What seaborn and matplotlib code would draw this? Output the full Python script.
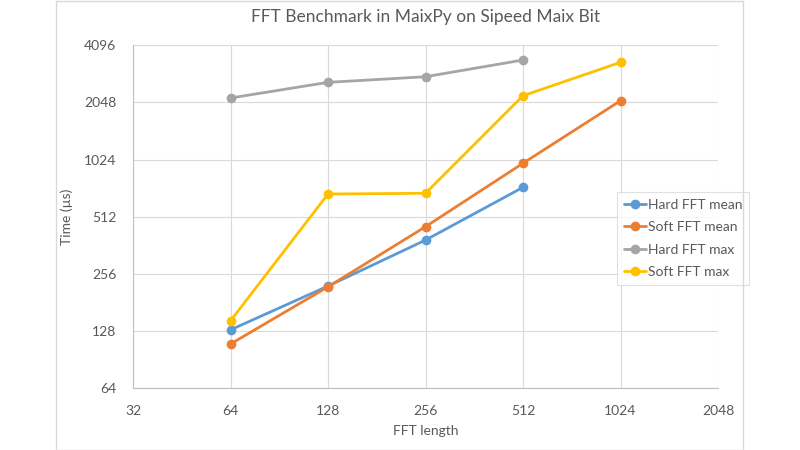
import matplotlib
matplotlib.use("Agg")
import matplotlib.pyplot as plt
import matplotlib.ticker as mticker
from matplotlib.patches import Rectangle
import seaborn as sns
import pandas as pd

sns.set_theme(style="white")
plt.rcParams['font.family'] = ['Lato', 'DejaVu Sans']

fft_length = [64, 128, 256, 512, 1024]
hard_mean = [130, 221, 386, 732, None]
soft_mean = [109.5, 219, 454, 980, 2092]
hard_max = [2162, 2614, 2798, 3427, None]
soft_max = [145, 675, 681, 2222, 3332]

series_names = ["Hard FFT mean", "Soft FFT mean", "Hard FFT max", "Soft FFT max"]
series_values = [hard_mean, soft_mean, hard_max, soft_max]
colors = ["#5B9BD5", "#ED7D31", "#A5A5A5", "#FFC000"]

x_ticks = [32, 64, 128, 256, 512, 1024, 2048]
y_ticks = [64, 128, 256, 512, 1024, 2048, 4096]

rows = []
for name, vals in zip(series_names, series_values):
    for x, v in zip(fft_length, vals):
        if v is not None:
            rows.append({"FFT length": x, "Time": v, "Series": name})
df = pd.DataFrame(rows)

fig = plt.figure(figsize=(8, 4.5), dpi=100)
ax = fig.add_axes([133/800, 1-388.3/450, (718-133)/800, (388.3-45.3)/450])

text_color = "#595959"
grid_color = "#D9D9D9"

sns.lineplot(data=df, x="FFT length", y="Time", hue="Series", hue_order=series_names,
             palette=colors, marker="o", markersize=7, markeredgewidth=0,
             linewidth=2.0, ax=ax, legend=True)

ax.set_xscale("log", base=2)
ax.set_yscale("log", base=2)
ax.set_xlim(32, 2048)
ax.set_ylim(64, 4096)
ax.set_xticks(x_ticks)
ax.set_yticks(y_ticks)
ax.xaxis.set_major_formatter(mticker.FuncFormatter(lambda v, p: f"{int(round(v))}"))
ax.yaxis.set_major_formatter(mticker.FuncFormatter(lambda v, p: f"{int(round(v))}"))
ax.xaxis.set_minor_locator(mticker.NullLocator())
ax.yaxis.set_minor_locator(mticker.NullLocator())

ax.grid(True, color=grid_color, linewidth=0.8)
ax.set_axisbelow(True)
for side in ["top", "right"]:
    ax.spines[side].set_visible(False)
for side in ["left", "bottom"]:
    ax.spines[side].set_color("#BFBFBF")
    ax.spines[side].set_linewidth(0.8)

ax.tick_params(axis="both", length=0, colors=text_color, labelsize=10)
ax.tick_params(axis="x", pad=12)
ax.tick_params(axis="y", pad=12)

ax.set_xlabel("FFT length", color=text_color, fontsize=10, labelpad=6)
ax.set_ylabel("Time (µs)", color=text_color, fontsize=10, labelpad=8)
ax.set_title("FFT Benchmark in MaixPy on Sipeed Maix Bit", color=text_color,
             fontsize=12.5, pad=17)

leg = ax.legend(loc="upper left", bbox_to_anchor=((617-133)/585, (388.3-192)/343),
                frameon=True, fontsize=10, handlelength=1.6, handletextpad=0.1,
                borderpad=0.5, labelspacing=0.75, fancybox=False, borderaxespad=0)
leg.get_frame().set_edgecolor(grid_color)
leg.get_frame().set_linewidth(0.8)
for t in leg.get_texts():
    t.set_color(text_color)

fig.patches.append(Rectangle((56.5/800, 0.5/450), (743-56.5)/800, (449-0.5)/450,
                             transform=fig.transFigure, fill=False,
                             edgecolor="#D9D9D9", linewidth=1.0))

fig.savefig("out.png", dpi=100, facecolor="white")
